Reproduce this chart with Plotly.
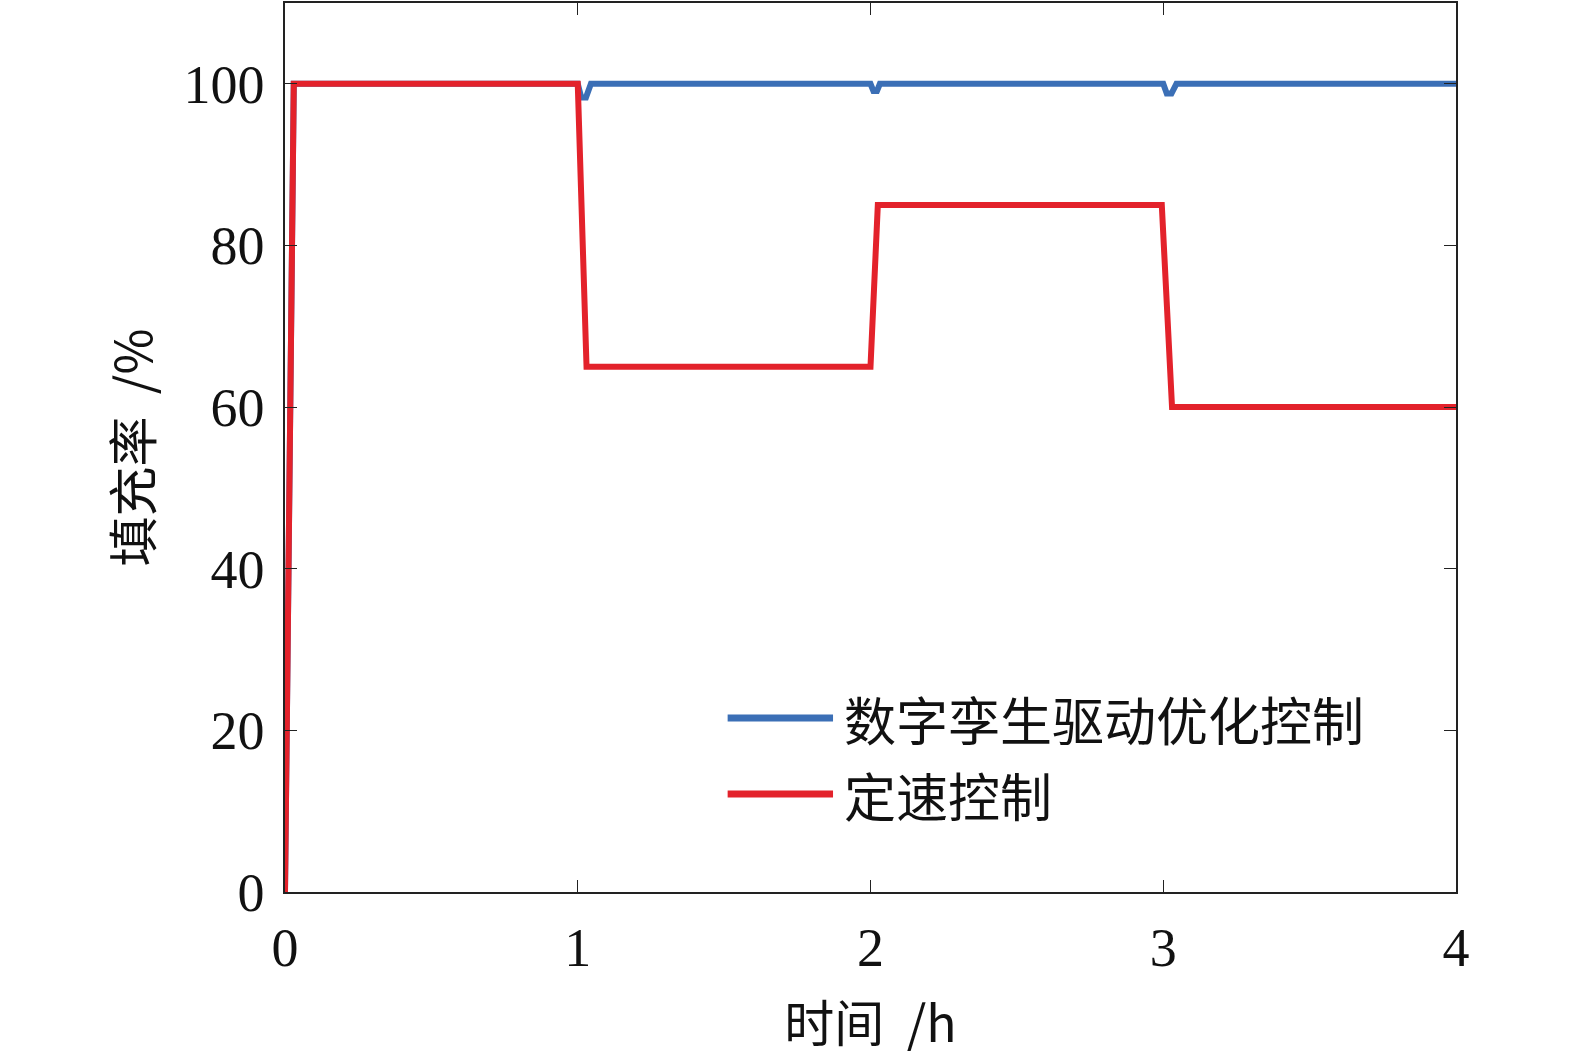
import plotly.graph_objects as go

# Data
blue_name = "数字孪生驱动优化控制"
red_name = "定速控制"
blue_t = [0, 0.03, 1.0, 1.012, 1.028, 1.045, 2.0, 2.01, 2.022, 2.032, 3.0, 3.012, 3.028, 3.045, 4.0]
blue_v = [0, 100, 100, 98.3, 98.3, 100, 100, 99.1, 99.1, 100, 100, 98.8, 98.8, 100, 100]
red_t = [0, 0.03, 1.0, 1.03, 2.0, 2.025, 2.995, 3.03, 4.0]
red_v = [0, 100, 100, 65, 65, 85, 85, 60, 60]
x_ticks = [0, 1, 2, 3, 4]
y_ticks = [0, 20, 40, 60, 80, 100]

BLUE = "#3b6fb6"
RED = "#e3222b"
FONT = "Liberation Serif, Noto Sans CJK SC"
CJK = "Noto Sans CJK SC"

fig = go.Figure()
fig.add_trace(go.Scatter(x=blue_t, y=blue_v, mode="lines", name=blue_name,
                         line=dict(color=BLUE, width=6), showlegend=False))
fig.add_trace(go.Scatter(x=red_t, y=red_v, mode="lines", name=red_name,
                         line=dict(color=RED, width=6), showlegend=False))

axis_common = dict(showline=True, linecolor="#222", linewidth=1.5, mirror="ticks",
                   ticks="inside", ticklen=12, tickcolor="#222", tickwidth=1.2,
                   showgrid=False, zeroline=False, automargin=False,
                   tickfont=dict(family=FONT, size=54, color="#111"))

fig.update_xaxes(range=[0, 4], tickvals=x_ticks, ticktext=[str(v) for v in x_ticks],
                 title=dict(text="时间  /h", font=dict(family=CJK, size=50, color="#111"), standoff=30),
                 ticklabelstandoff=7, **axis_common)
fig.update_yaxes(range=[0, 110], tickvals=y_ticks, ticktext=[str(v) for v in y_ticks],
                 title=dict(text="填充率  /%", font=dict(family=CJK, size=50, color="#111"), standoff=15),
                 ticklabelstandoff=8, **axis_common)

# Manual legend (lines + text)
legend_items = [(blue_name, BLUE, 0.1957), (red_name, RED, 0.1102)]
for name, color, yp in legend_items:
    fig.add_shape(type="line", xref="paper", yref="paper", x0=0.378, x1=0.468, y0=yp, y1=yp,
                  line=dict(color=color, width=7))
    fig.add_annotation(text=name, xref="paper", yref="paper", x=0.476, y=yp, xanchor="left",
                       yanchor="middle", showarrow=False,
                       font=dict(family=CJK, size=52, color="#111"))

fig.update_layout(width=1575, height=1058, plot_bgcolor="white", paper_bgcolor="white",
                  margin=dict(l=285, r=119, t=3, b=166))

fig.write_html("out.html", config={"displayModeBar": False},
               post_script="document.body.style.margin='0';")
